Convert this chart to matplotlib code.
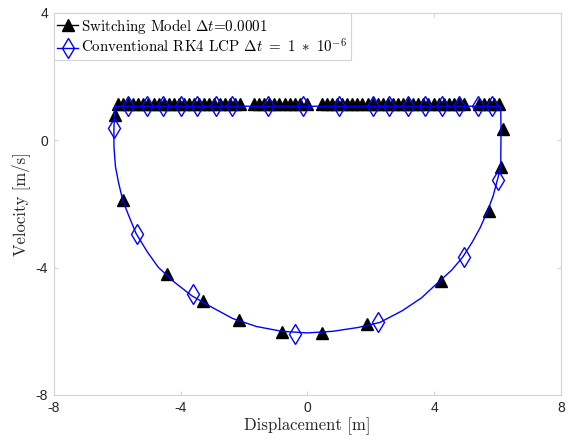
import matplotlib
matplotlib.use('Agg')
import matplotlib.pyplot as plt
from matplotlib.lines import Line2D

plt.rcParams['mathtext.fontset'] = 'cm'
plt.rcParams['axes.unicode_minus'] = False

# blue RK4 LCP trajectory
line_x = [-6.07, 6.10, 6.11, 6.10, 6.06, 5.99, 5.86, 5.68, 5.45, 5.20, 4.90, 4.55, 4.13, 3.60,
          3.00, 2.29, 1.60, 0.80, 0.00, -0.80, -1.60, -2.35, -3.00, -3.65, -4.20, -4.70, -5.05,
          -5.40, -5.62, -5.82, -5.95, -6.05, -6.10, -6.10, -6.07]
line_y = [1.07, 1.07, 0.30, -0.72, -1.00, -1.26, -1.75, -2.23, -2.75, -3.20, -3.67, -4.08, -4.46,
          -4.95, -5.35, -5.72, -5.88, -6.00, -6.05, -6.00, -5.85, -5.60, -5.25, -4.88, -4.45,
          -3.99, -3.50, -2.93, -2.40, -1.89, -1.35, -0.84, -0.20, 0.40, 1.07]

# RK4 LCP markers
rk_x = [-6.10, -5.37, -3.60, -0.40, 2.24, 4.93, 6.02,
        -5.66, -5.07, -4.55, -3.97, -3.47, -2.88, -2.37, -1.25, -0.14, 0.99, 2.06, 2.57,
        3.16, 3.70, 4.26, 4.79, 5.37, 5.84]
rk_y = [0.40, -2.94, -4.84, -6.09, -5.71, -3.65, -1.25,
        1.07, 1.07, 1.07, 1.07, 1.07, 1.07, 1.07, 1.07, 1.07, 1.07, 1.07, 1.07,
        1.07, 1.07, 1.07, 1.07, 1.07, 1.07]

# switching model markers, slip part
sw_x = [-6.07, -5.81, -4.44, -3.28, -2.17, -0.80, 0.47, 1.89, 4.21, 5.74, 6.11, 6.16]
sw_y = [0.81, -1.875, -4.19, -5.05, -5.65, -6.02, -6.04, -5.78, -4.43, -2.22, -0.83, 0.37]

# switching model markers, stick part (v ~ belt speed)
stick_x = [-5.97, -5.81, -5.65, -5.49, -5.33, -5.17, -5.01, -4.85, -4.69, -4.53, -4.37, -4.21,
           -4.05, -3.89, -3.73, -3.57, -3.41, -3.25, -3.09, -2.93, -2.77, -2.61, -2.45, -2.29,
           -2.13, -1.68, -1.52, -1.36, -1.20, -1.04, -0.88, -0.72, -0.56, -0.40, -0.24, 0.00,
           0.46, 0.62, 0.78, 0.94, 1.10, 1.26, 1.42, 1.58, 1.74, 1.90, 2.06, 2.22, 2.38, 2.54,
           2.70, 2.86, 3.02, 3.18, 3.34, 3.50, 3.66, 3.82, 3.98, 4.14, 4.30, 4.46, 4.62, 4.78,
           4.94, 5.40, 5.56, 5.72, 5.88, 6.04]
stick_v = 1.15

lbl_sw = r'Switching Model $\Delta t$=0.0001'
lbl_rk = r'Conventional RK4 LCP $\Delta t\ =\ 1\ *\ 10^{-6}$'

fig = plt.figure(figsize=(5.73, 4.43), dpi=100)
ax = fig.add_axes([0.0937, 0.1084, 0.8853, 0.8623])

ax.plot(sw_x, sw_y, linestyle='none', marker='^', ms=8.5, color='black', zorder=2)
ax.plot(stick_x, [stick_v] * len(stick_x), linestyle='none', marker='^', ms=8.5, color='black', zorder=2)
ax.plot(line_x, line_y, color='#0000ff', lw=1.0, zorder=3)
ax.plot(rk_x, rk_y, linestyle='none', marker='d', ms=10, mfc='none', mec='#0000ff', mew=1.0, zorder=4)

ax.set_xlim(-8, 8)
ax.set_ylim(-8, 4)
ax.set_xticks([-8, -4, 0, 4, 8])
ax.set_yticks([-8, -4, 0, 4])

grey = '#d4d4d4'
for s in ax.spines.values():
    s.set_color(grey)
    s.set_linewidth(0.8)
ax.tick_params(direction='in', length=3, width=0.8, color=grey, top=True, right=True,
               labelsize=10, labelcolor='#262626', pad=4)
for t in ax.get_xticklabels() + ax.get_yticklabels():
    t.set_fontfamily('Liberation Sans')

ax.set_xlabel('Displacement [m]', family='cmr10', fontsize=12, color='#262626', labelpad=2)
ax.set_ylabel('Velocity [m/s]', family='cmr10', fontsize=12, color='#262626', labelpad=4)

handles = [Line2D([], [], color='black', marker='^', ms=8.5, lw=1.0),
           Line2D([], [], color='#0000ff', marker='d', ms=10, mfc='none', mew=1.0, lw=1.0)]
leg = ax.legend(handles, [lbl_sw, lbl_rk], loc='upper left', bbox_to_anchor=(0, 1),
                borderaxespad=0, fancybox=False, framealpha=1, edgecolor=grey,
                prop={'family': 'cmr10', 'size': 10.8}, handlelength=1.4, handletextpad=0.2,
                borderpad=0.25, labelspacing=0.15)
leg.get_frame().set_linewidth(0.8)

fig.savefig('out.png', dpi=100)
